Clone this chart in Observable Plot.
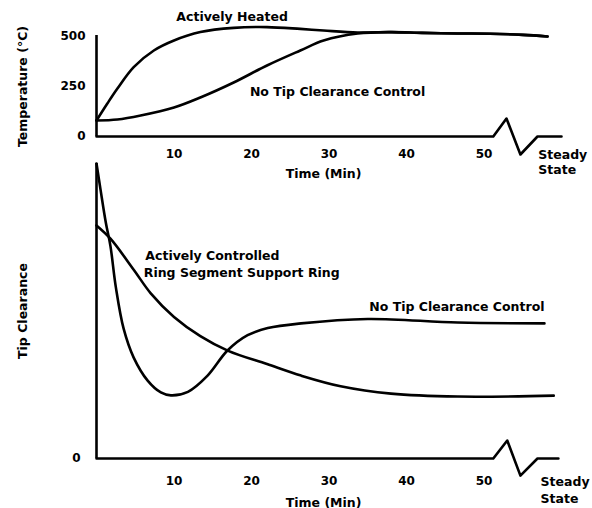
<!DOCTYPE html>
<html><head><meta charset="utf-8">
<script src="https://cdn.jsdelivr.net/npm/d3@7"></script>
<script src="https://cdn.jsdelivr.net/npm/@observablehq/plot@0.6"></script>
<style>
body{margin:0;background:#fff;}
#wrap{position:relative;width:592px;height:508px;overflow:hidden;background:#fff;}
#wrap svg{position:absolute;left:0;}
</style></head><body><div id="wrap"></div>
<script>
// ---- Top panel: temperature (°C) vs time (min)
const heatedTime = [0, 1.4, 2.7, 4.8, 7.4, 10, 13.4, 17.7, 22, 26.3, 29.3, 33.7, 38, 42, 46.6, 50.8, 55, 58.2];
const heatedTemp = [80, 165, 240, 347, 430, 480, 522, 543, 547, 538, 530, 520, 522, 518, 515, 514, 508, 500];
const noTccTime = [0, 2.7, 5.7, 10, 13.4, 17.7, 22, 26.3, 29.3, 33.7, 38, 42, 46.6, 50.8, 55, 58.2];
const noTccTemp = [80, 85, 105, 145, 195, 270, 355, 430, 480, 515, 522, 518, 515, 514, 508, 500];
const tempTicks = [0, 250, 500];
// ---- Bottom panel: tip clearance vs time (min)
const noTccClrTime = [0, 0.5, 1.2, 1.8, 2.5, 3.5, 4.8, 6.6, 8.3, 9.6, 11.8, 14.3, 16.9, 19.5, 22.1, 26.4, 35, 46.6, 57.8];
const noTccClr = [100, 91.5, 80, 72, 58, 44, 34.2, 26.4, 22.4, 21.4, 22.6, 28, 36.6, 41.8, 44.2, 45.8, 47.3, 46.1, 45.8];
const ringClrTime = [0, 1.8, 4.8, 7, 10, 13.4, 17, 22, 26.4, 31.5, 38, 46.6, 59];
const ringClr = [79, 74.5, 64, 56, 48, 41.5, 36.5, 32, 28.1, 24.5, 22, 21, 21.3];
const clrTicks = [0];
const timeTicks = [10, 20, 30, 40, 50];
// axis with "break" zigzag before steady state
const topAxisTime = [0, 51.2, 52.9, 54.7, 56.9, 60];
const topAxisVal = [0, 0, 90, -90, 0, 0];
const botAxisTime = [0, 51.2, 53.0, 54.7, 56.9, 59.6];
const botAxisVal = [0, 0, 6.1, -5.8, 0, 0];

const zip = (xs, ys) => xs.map((t, i) => ({t, v: ys[i]}));
const FONT = "DejaVu Sans";
const txt = {fontFamily: FONT, fontWeight: "bold", fontSize: 12.5, fill: "black"};
const svgStyle = {fontFamily: FONT, fontWeight: "bold", fontSize: "12px", background: "transparent", overflow: "visible", color: "black"};
const LW = 2.6;
const CURVE = "catmull-rom";

const topChart = Plot.plot({
  width: 592, height: 190,
  marginLeft: 96, marginRight: 31, marginTop: 36, marginBottom: 54,
  style: svgStyle,
  x: {domain: [0, 60], ticks: timeTicks, tickSize: 0, tickPadding: 13, label: null},
  y: {domain: [0, 500], ticks: tempTicks, tickSize: 0, tickPadding: 11, label: null},
  marks: [
    Plot.line(zip(topAxisTime, topAxisVal), {x: "t", y: "v", strokeWidth: LW, stroke: "black"}),
    Plot.ruleX([0], {y1: 0, y2: 505, strokeWidth: LW, stroke: "black"}),
    Plot.line(zip(heatedTime, heatedTemp), {x: "t", y: "v", curve: CURVE, strokeWidth: LW, stroke: "black"}),
    Plot.line(zip(noTccTime, noTccTemp), {x: "t", y: "v", curve: CURVE, strokeWidth: LW, stroke: "black"}),
    Plot.text(["Actively Heated"], {x: 17.5, y: 600, ...txt}),
    Plot.text(["No Tip Clearance Control"], {x: 31.1, y: 225, ...txt}),
    Plot.text(["Time (Min)"], {x: 29.3, y: 0, dy: 37, ...txt}),
    Plot.text(["Steady\nState"], {x: 57.0, y: 0, dy: 12, textAnchor: "start", lineAnchor: "top", lineHeight: 1.2, ...txt}),
    Plot.text(["Temperature (°C)"], {frameAnchor: "left", textAnchor: "middle", dx: -74, rotate: -90, ...txt})
  ]
});
topChart.style.top = "0px";

const bottomChart = Plot.plot({
  width: 592, height: 358,
  marginLeft: 96, marginRight: 31, marginTop: 13, marginBottom: 50,
  style: svgStyle,
  x: {domain: [0, 60], ticks: timeTicks, tickSize: 0, tickPadding: 18, label: null},
  y: {domain: [0, 100], ticks: clrTicks, tickSize: 0, tickPadding: 16, label: null},
  marks: [
    Plot.line(zip(botAxisTime, botAxisVal), {x: "t", y: "v", strokeWidth: LW, stroke: "black"}),
    Plot.ruleX([0], {y1: 0, y2: 100, strokeWidth: LW, stroke: "black"}),
    Plot.line(zip(noTccClrTime, noTccClr), {x: "t", y: "v", curve: CURVE, strokeWidth: LW, stroke: "black"}),
    Plot.line(zip(ringClrTime, ringClr), {x: "t", y: "v", curve: CURVE, strokeWidth: LW, stroke: "black"}),
    Plot.text(["Actively Controlled"], {x: 6.3, y: 68.8, textAnchor: "start", ...txt}),
    Plot.text(["Ring Segment Support Ring"], {x: 6.1, y: 63, textAnchor: "start", ...txt}),
    Plot.text(["No Tip Clearance Control"], {x: 46.5, y: 51.2, ...txt}),
    Plot.text(["Time (Min)"], {x: 29.3, y: 0, dy: 44, ...txt}),
    Plot.text(["Steady\nState"], {x: 57.3, y: 0, dy: 15.5, textAnchor: "start", lineAnchor: "top", lineHeight: 1.36, ...txt}),
    Plot.text(["Tip Clearance"], {frameAnchor: "left", textAnchor: "middle", dx: -74, rotate: -90, ...txt})
  ]
});
bottomChart.style.top = "150px";

const wrap = document.getElementById("wrap");
wrap.appendChild(topChart);
wrap.appendChild(bottomChart);
</script>
</body></html>
